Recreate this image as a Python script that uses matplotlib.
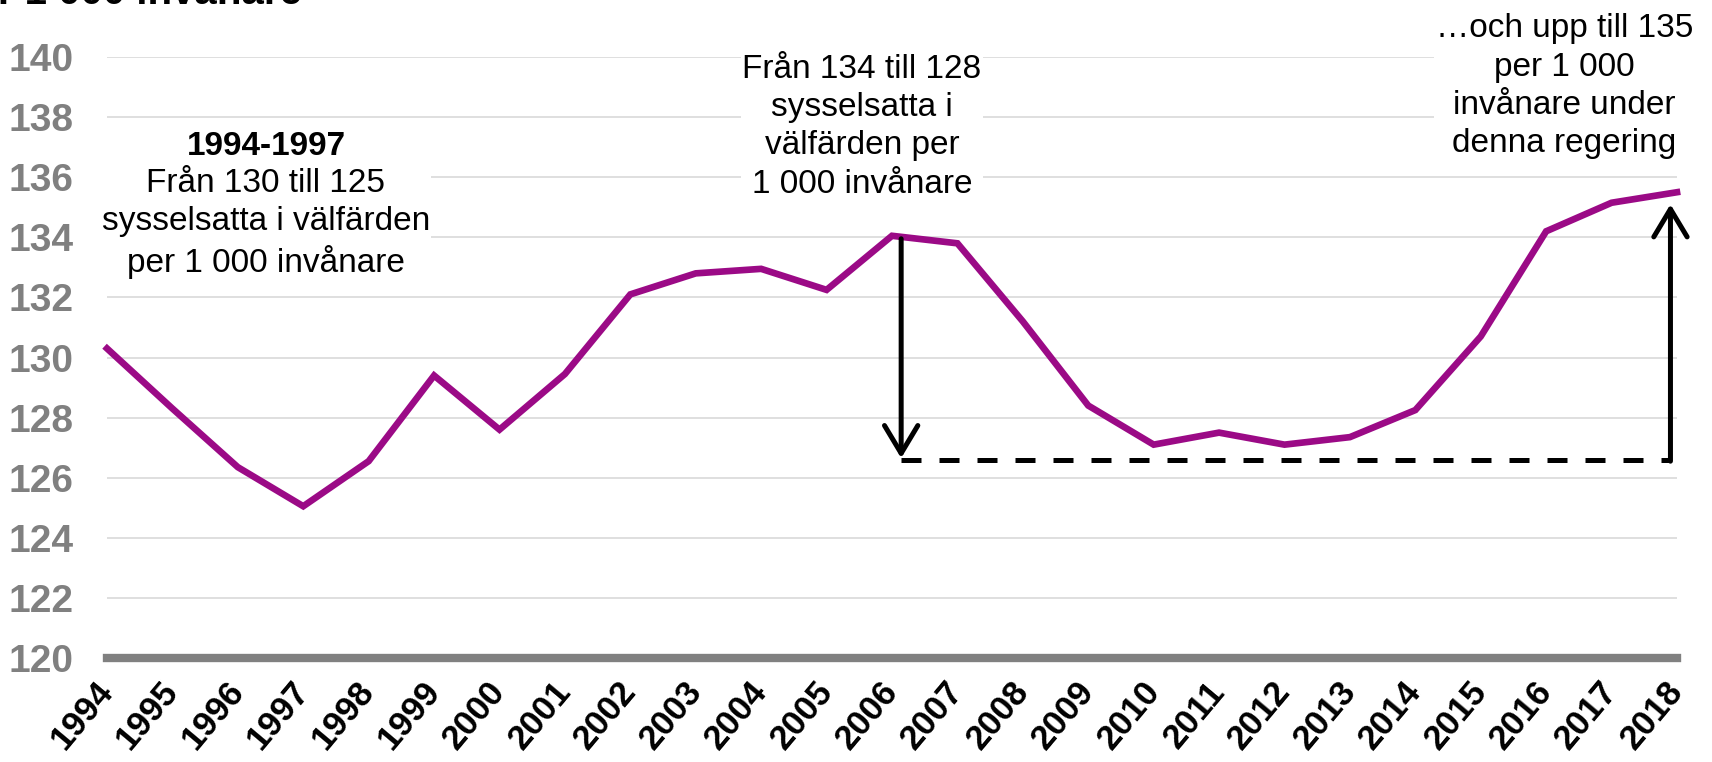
import matplotlib.pyplot as plt

plt.rcParams['font.family'] = ['Liberation Sans', 'DejaVu Sans']

years = list(range(1994, 2019))
values = [130.3, 128.3, 126.35, 125.05, 126.55, 129.4, 127.6, 129.45, 132.1,
          132.8, 132.95, 132.25, 134.05, 133.8, 131.2, 128.4, 127.1, 127.5,
          127.1, 127.35, 128.25, 130.7, 134.2, 135.15, 135.5]
yticks = list(range(120, 141, 2))

# annotation levels
low_level = 126.6
peak_2006 = 134.05
top_2018 = 135.1

line_color = '#9B0A86'

fig = plt.figure(figsize=(17.12, 7.62), dpi=100)
ax = fig.add_axes([107 / 1712, 1 - 658 / 762, (1677 - 107) / 1712, (658 - 57) / 762])

ax.set_xlim(1994, 2018)
ax.set_ylim(120, 140)
ax.set_yticks(yticks)
for y in yticks[1:]:
    ax.axhline(y, color='#d9d9d9', lw=1.2, zorder=0)
ax.axhline(120, color='#808080', lw=6, zorder=1, clip_on=False)

ax.plot(years, values, color=line_color, lw=4.8, zorder=3, clip_on=False,
        solid_joinstyle='miter')

for s in ax.spines.values():
    s.set_visible(False)

ax.set_xticks(years)
ax.set_xticklabels([str(y) for y in years], rotation=50, ha='right', va='center',
                   rotation_mode='anchor', fontsize=25, fontweight='bold')
ax.tick_params(axis='x', length=0, pad=20)
ax.set_yticklabels([str(y) for y in yticks], fontsize=28, fontweight='bold', color='#808080')
ax.tick_params(axis='y', length=0, pad=24)

# dashed reference line and arrows
ax.plot([2006.14, 2017.9], [low_level, low_level], color='black', lw=3.6,
        dashes=(4, 3.6), zorder=4, clip_on=False)
arrow = dict(arrowstyle='->,head_length=1.0,head_width=0.6', color='black', lw=3.6,
             shrinkA=0, shrinkB=0, mutation_scale=20)
ax.annotate('', xy=(2006.14, low_level + 0.05), xytext=(2006.14, peak_2006 - 0.1),
            arrowprops=arrow, zorder=5)
ax.annotate('', xy=(2017.9, top_2018), xytext=(2017.9, low_level - 0.05),
            arrowprops=arrow, zorder=5)

box = dict(facecolor='white', edgecolor='none', pad=1)
ax.text(1996.43, 137.55, '1994-1997', ha='center', va='top', fontsize=24,
        fontweight='bold', bbox=box, zorder=6)
ax.text(1996.43, 136.3, 'Från 130 till 125\nsysselsatta i välfärden\nper 1 000 invånare',
        ha='center', va='top', fontsize=24, linespacing=1.3, bbox=box, zorder=6)
ax.text(2005.54, 140.1, 'Från 134 till 128\nsysselsatta i\nvälfärden per\n1 000 invånare',
        ha='center', va='top', fontsize=24, linespacing=1.3, bbox=box, zorder=6,
        clip_on=False)
ax.text(2016.28, 141.45, '…och upp till 135\nper 1 000\ninvånare under\ndenna regering',
        ha='center', va='top', fontsize=24, linespacing=1.3, bbox=box, zorder=6,
        clip_on=False)

# y axis title, mostly above the canvas
fig.text(302 / 1712, 1 - 4 / 762, 'Sysselsatta i välfärden\nper 1 000 invånare',
         ha='right', va='baseline', fontsize=29, fontweight='bold')

fig.savefig('out.png', dpi=100)
